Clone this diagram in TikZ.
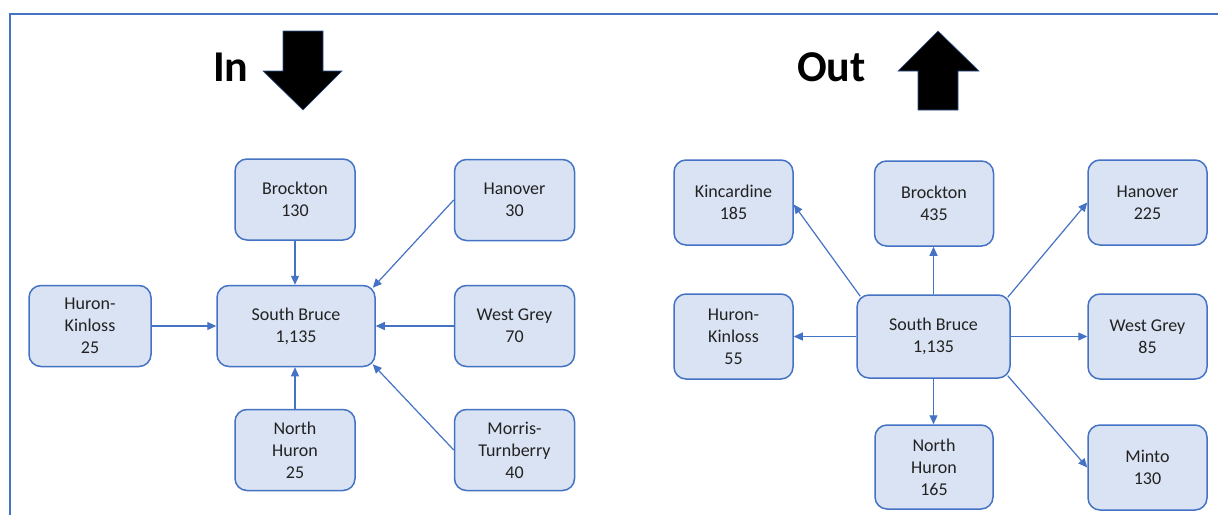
\documentclass[tikz,border=0pt]{standalone}
\usepackage{fontspec}
\setmainfont{Carlito}
\usetikzlibrary{arrows.meta}
\definecolor{bblue}{HTML}{4472C4}
\definecolor{bfill}{HTML}{DAE3F3}
\definecolor{darkout}{HTML}{2F528F}
\definecolor{txt}{HTML}{222222}
\begin{document}
\begin{tikzpicture}[x=1pt,y=-1pt,
  box/.style={draw=bblue, fill=bfill, line width=1.5pt, rounded corners=12pt, inner sep=0pt,
    align=center, font=\fontsize{18}{22}\selectfont, text=txt},
  sbox/.style={box, minimum width=120pt, minimum height=81pt},
  rbox/.style={box, minimum width=119pt, minimum height=85pt},
  link/.style={draw=bblue, line width=1.2pt, -{Triangle[length=9pt,width=8pt]}},
  title/.style={anchor=base west, inner sep=0pt, font=\fontsize{44}{44}\selectfont\bfseries, text=black},
  block/.style={fill=black, draw=darkout, line width=0.6pt}]
\useasboundingbox (0,0) rectangle (1218,514);
\fill[white] (0,0) rectangle (1218,514);
\draw[bblue, line width=2pt] (9.5,520) -- (9.5,14) -- (1222,14);

% titles and block arrows
\node[title] (tin) at (213,81) {In};
\node[title] (tout) at (797,81) {Out};
\path[block] (283,31) -- (323,31) -- (323,71) -- (342,71) -- (303,110) -- (263,71) -- (283,71) -- cycle;
\path[block] (938,31) -- (979,71) -- (958,71) -- (958,110) -- (918,110) -- (918,71) -- (898,71) -- cycle;

% left diagram
\node[sbox] (lbr) at (295,199.5) {Brockton\\130};
\node[sbox] (lha) at (514.5,200) {Hanover\\30};
\node[sbox, minimum width=122pt] (lhk) at (90,326) {Huron-\\Kinloss\\25};
\node[sbox, minimum width=158pt] (lsb) at (296,326) {South Bruce\\1,135};
\node[sbox] (lwg) at (514.5,326) {West Grey\\70};
\node[sbox] (lnh) at (295,450) {North\\Huron\\25};
\node[sbox] (lmt) at (514.5,450) {Morris-\\Turnberry\\40};

\draw[link] (lbr.south) -- (lbr.south |- lsb.north);
\draw[link] (lhk.east) -- (lsb.west);
\draw[link] (lwg.west) -- (lsb.east);
\draw[link] (lnh.north) -- (lnh.north |- lsb.south);
\draw[link] (lha.west) -- ([shift={(-3pt,-3pt)}]lsb.north east);
\draw[link] (lmt.west) -- ([shift={(-3pt,3pt)}]lsb.south east);

% right diagram
\node[rbox] (rki) at (733.5,202.5) {Kincardine\\185};
\node[rbox] (rbr) at (934,203.5) {Brockton\\435};
\node[rbox] (rha) at (1147.5,202.5) {Hanover\\225};
\node[rbox] (rhk) at (733.5,336.5) {Huron-\\Kinloss\\55};
\node[rbox, minimum width=153pt, minimum height=83pt] (rsb) at (933.5,336.5) {South Bruce\\1,135};
\node[rbox] (rwg) at (1147.5,336.5) {West Grey\\85};
\node[rbox, minimum width=118pt, minimum height=84pt] (rnh) at (934,467) {North\\Huron\\165};
\node[rbox] (rmi) at (1147.5,467.5) {Minto\\130};

\draw[link] (rsb.north) -- (rsb.north |- rbr.south);
\draw[link] (rsb.south) -- (rsb.south |- rnh.north);
\draw[link] (rsb.west) -- (rhk.east);
\draw[link] (rsb.east) -- (rwg.west);
\draw[link] ([shift={(4pt,-2pt)}]rsb.north west) -- ([yshift=-2pt]rki.east);
\draw[link] ([shift={(-3pt,-3pt)}]rsb.north east) -- (rha.west);
\draw[link] ([shift={(-3pt,3pt)}]rsb.south east) -- (rmi.west);
\end{tikzpicture}
\end{document}
